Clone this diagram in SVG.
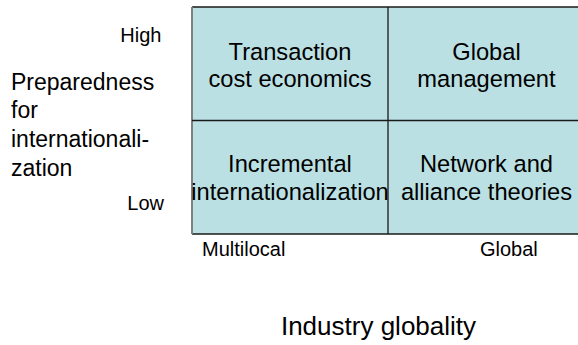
<svg xmlns="http://www.w3.org/2000/svg" width="578" height="345" viewBox="0 0 578 345">
  <style>
    text { font-family: "Liberation Sans", Arial, sans-serif; fill: #000; }
    .cell { font-size: 23.7px; text-anchor: middle; }
    .axis { font-size: 20px; }
    .label { font-size: 23px; }
    .title { font-size: 26px; text-anchor: middle; }
    .grid { stroke: #1a1a1a; stroke-width: 1.3; fill: none; }
  </style>
  <rect width="578" height="345" fill="#ffffff"/>

  <!-- 2x2 matrix -->
  <g id="matrix">
    <rect x="192" y="7" width="393" height="227" fill="#bbe0e3"/>
    <line x1="192" y1="7" x2="585" y2="7" class="grid"/>
    <line x1="192" y1="234" x2="585" y2="234" class="grid"/>
    <line x1="192" y1="7" x2="192" y2="234" stroke="#7f7f7f" stroke-width="2"/>
  </g>

  <g id="connectors">
    <line x1="388" y1="7" x2="388" y2="234" class="grid"/>
    <line x1="192" y1="120.5" x2="585" y2="120.5" class="grid"/>
  </g>

  <g id="cell-transaction-cost">
    <text class="cell" x="290" y="60">Transaction</text>
    <text class="cell" x="290" y="87">cost economics</text>
  </g>
  <g id="cell-global-management">
    <text class="cell" x="486.5" y="60">Global</text>
    <text class="cell" x="486.5" y="87">management</text>
  </g>
  <g id="cell-incremental">
    <text class="cell" x="290" y="172">Incremental</text>
    <text class="cell" x="290" y="200">internationalization</text>
  </g>
  <g id="cell-network">
    <text class="cell" x="486.5" y="172">Network and</text>
    <text class="cell" x="486.5" y="200">alliance theories</text>
  </g>

  <!-- vertical axis -->
  <g id="y-axis">
    <text class="axis" x="161.5" y="41.5" text-anchor="end">High</text>
    <text class="label" x="11" y="89.5">Preparedness</text>
    <text class="label" x="11" y="118">for</text>
    <text class="label" x="11" y="147">internationali-</text>
    <text class="label" x="11" y="175.5">zation</text>
    <text class="axis" x="164" y="210" text-anchor="end">Low</text>
  </g>

  <!-- horizontal axis -->
  <g id="x-axis">
    <text class="axis" x="202" y="256">Multilocal</text>
    <text class="axis" x="480" y="256">Global</text>
    <text class="title" x="378.5" y="335">Industry globality</text>
  </g>
</svg>
